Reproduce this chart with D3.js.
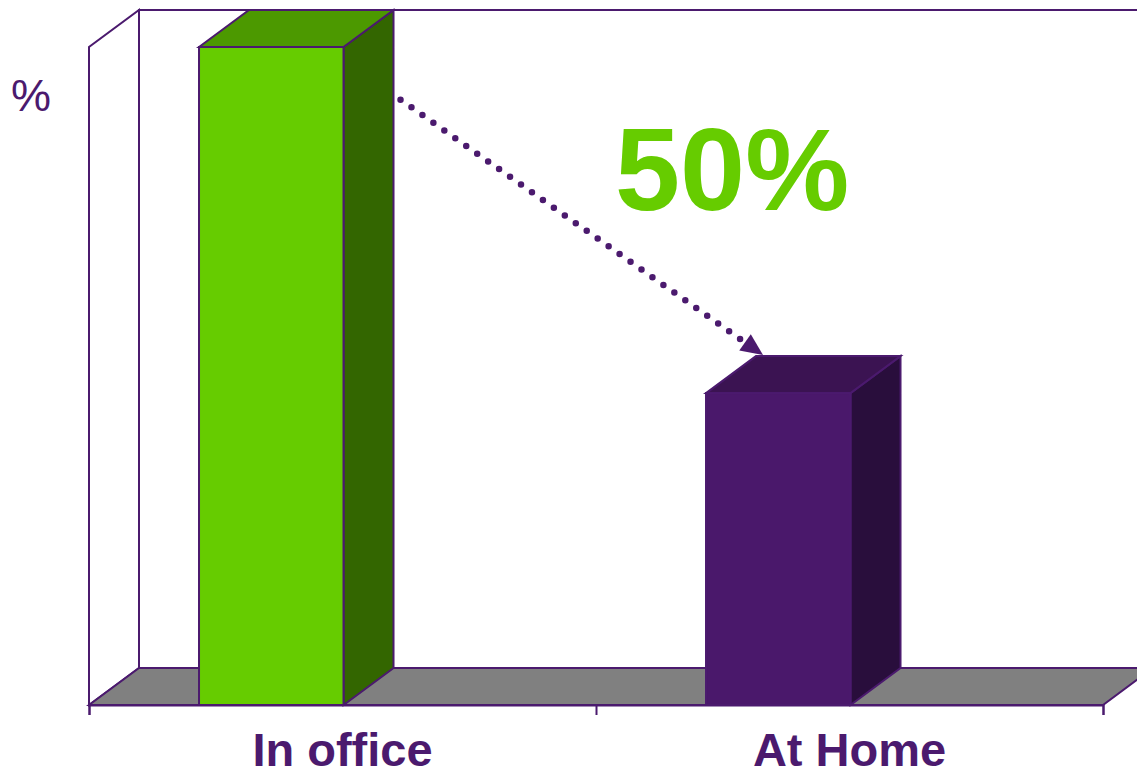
<!DOCTYPE html>
<html>
<head>
<meta charset="utf-8">
<script src="https://cdn.jsdelivr.net/npm/d3@7"></script>
<style>
	body { margin: 0; background: #fff; }
	svg { display: block; font-family: 'Liberation Sans', Arial, sans-serif; }
</style>
</head>
<body>
<div class="chart"></div>
<script>
// chart data
const categories = ['In office', 'At Home'];
const values = [100, 47.4];
const changeLabel = '50%';
const unitLabel = '%';

const frontColors = ['#66cc00', '#4a186b'],
	topColors = ['#4c9900', '#3b1352'],
	sideColors = ['#336600', '#290e3c'],
	lineColor = '#4b1a6e',
	width = 1137,
	height = 777,
	depth = { dx: 50, dy: -37 },
	plot = { left: 89, right: 1103, bottom: 705, top: 47 };

let xScale = d3.scaleBand().domain(categories).range([plot.left, plot.right]),
	xEdge = d3.scaleLinear().domain([0, categories.length]).range([plot.left, plot.right]),
	yScale = d3.scaleLinear().domain([0, 100]).range([plot.bottom, plot.top]),
	barOffset = xScale.bandwidth() * 0.217,
	barWidth = xScale.bandwidth() * 0.285,
	pts = p => p.map(d => d.join(',')).join(' ');

let svg = d3.select('.chart').append('svg')
	.attr('width', width)
	.attr('height', height);

let x0 = xEdge(0), x1 = xEdge(categories.length),
	y0 = yScale(0), yT = yScale(100),
	dx = depth.dx, dy = depth.dy;

// back wall
svg.append('rect')
	.attr('x', x0 + dx).attr('y', yT + dy)
	.attr('width', x1 - x0).attr('height', y0 - yT)
	.attr('fill', '#fff').attr('stroke', lineColor).attr('stroke-width', 2);

// left wall
svg.append('polygon')
	.attr('points', pts([[x0, y0], [x0, yT], [x0 + dx, yT + dy], [x0 + dx, y0 + dy]]))
	.attr('fill', '#fff').attr('stroke', lineColor).attr('stroke-width', 2);

// floor
svg.append('polygon')
	.attr('points', pts([[x0, y0], [x0 + dx, y0 + dy], [x1 + dx, y0 + dy], [x1, y0]]))
	.attr('fill', '#808080').attr('stroke', lineColor).attr('stroke-width', 2);

// x axis ticks at band edges
svg.append('g')
	.attr('transform', 'translate(0,' + y0 + ')')
	.call(d3.axisBottom(xEdge).tickValues(d3.range(categories.length + 1)).tickSize(10).tickFormat(''))
	.call(g => g.selectAll('path, line').attr('stroke', lineColor).attr('stroke-width', 2));

// bars
let bars = svg.selectAll('.bar')
	.data(categories)
	.enter().append('g')
	.attr('class', 'bar');

bars.each(function (c, i) {
	let g = d3.select(this),
		bx = xScale(c) + barOffset,
		by = yScale(values[i]),
		bw = barWidth;

	g.append('polygon')
		.attr('points', pts([[bx + bw, y0], [bx + bw, by], [bx + bw + dx, by + dy], [bx + bw + dx, y0 + dy]]))
		.attr('fill', sideColors[i]).attr('stroke', lineColor).attr('stroke-width', 2);
	g.append('polygon')
		.attr('points', pts([[bx, by], [bx + dx, by + dy], [bx + bw + dx, by + dy], [bx + bw, by]]))
		.attr('fill', topColors[i]).attr('stroke', lineColor).attr('stroke-width', 2);
	g.append('rect')
		.attr('x', bx).attr('y', by)
		.attr('width', bw).attr('height', y0 - by)
		.attr('fill', frontColors[i]).attr('stroke', lineColor).attr('stroke-width', 2);
});

// dotted arrow from first bar to second bar
let start = [xScale(categories[0]) + barOffset + barWidth + dx + 7, yScale(92)],
	tip = [xScale(categories[1]) + barOffset + dx + 7, yScale(values[1]) + dy - 1],
	len = Math.hypot(tip[0] - start[0], tip[1] - start[1]),
	ux = (tip[0] - start[0]) / len,
	uy = (tip[1] - start[1]) / len,
	headLen = 22,
	headW = 10,
	base = [tip[0] - ux * headLen, tip[1] - uy * headLen];

svg.append('line')
	.attr('x1', start[0]).attr('y1', start[1])
	.attr('x2', base[0]).attr('y2', base[1])
	.attr('stroke', lineColor)
	.attr('stroke-width', 6.5)
	.attr('stroke-linecap', 'round')
	.attr('stroke-dasharray', '0 13.4');

svg.append('polygon')
	.attr('points', pts([tip, [base[0] - uy * headW, base[1] + ux * headW], [base[0] + uy * headW, base[1] - ux * headW]]))
	.attr('fill', lineColor);

// change label
svg.append('text')
	.attr('x', 615).attr('y', 210)
	.attr('font-size', 117).attr('font-weight', 'bold')
	.attr('fill', '#66cc00')
	.text(changeLabel);

// unit label
svg.append('text')
	.attr('x', 11).attr('y', 111)
	.attr('font-size', 45)
	.attr('fill', lineColor)
	.text(unitLabel);

// category labels
svg.selectAll('.cat')
	.data(categories)
	.enter().append('text')
	.attr('class', 'cat')
	.attr('x', d => xScale(d) + xScale.bandwidth() / 2)
	.attr('y', 766)
	.attr('text-anchor', 'middle')
	.attr('font-size', 47).attr('font-weight', 'bold')
	.attr('fill', lineColor)
	.text(d => d);
</script>
</body>
</html>
